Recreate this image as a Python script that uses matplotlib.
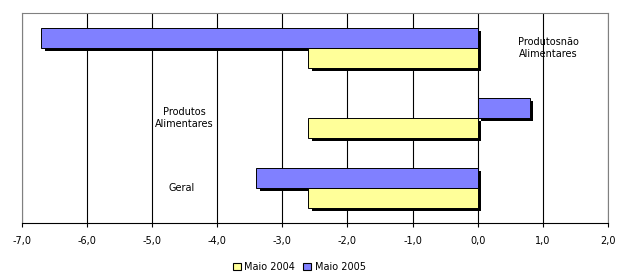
import numpy as np
import matplotlib
matplotlib.use('Agg')
import matplotlib.pyplot as plt
import matplotlib.patheffects as pe
from matplotlib.patches import Patch

plt.rcParams['font.family'] = ['DejaVu Sans']

# dados (variação %, de baixo para cima)
categorias = ['Geral', 'Produtos\nAlimentares', 'Produtosnão\nAlimentares']
maio_2004 = [-2.6, -2.6, -2.6]
maio_2005 = [-3.4, 0.8, -6.7]
ticks = np.arange(-7, 3, 1)

cor_2004 = '#FFFF99'
cor_2005 = '#8080FF'

fig = plt.figure(figsize=(6.17, 2.74), dpi=100)
ax = fig.add_axes([0.0352, 0.186, 0.9502, 0.7666])

y = np.arange(len(categorias))
h = 0.2857
sombra = [pe.SimplePatchShadow(offset=(2.4, -2.4), shadow_rgbFace='black', alpha=1.0), pe.Normal()]

b5 = ax.barh(y + h / 2, maio_2005, height=h, color=cor_2005, edgecolor='black', linewidth=0.7, zorder=3)
b4 = ax.barh(y - h / 2, maio_2004, height=h, color=cor_2004, edgecolor='black', linewidth=0.7, zorder=4)
for b in list(b5) + list(b4):
    b.set_path_effects(sombra)

ax.set_xlim(-7, 2)
ax.set_ylim(-0.5, len(categorias) - 0.5)
ax.set_xticks(ticks)
ax.set_xticklabels([f'{t:.1f}'.replace('.', ',') for t in ticks], fontsize=7)
ax.set_yticks([])
ax.grid(axis='x', color='black', linewidth=0.8, zorder=0)
ax.set_axisbelow(True)
ax.tick_params(axis='x', direction='out', length=3, width=0.8, pad=6)

for s in ['left', 'right', 'top']:
    ax.spines[s].set_color('#808080')
    ax.spines[s].set_linewidth(0.8)
ax.spines['bottom'].set_color('black')
ax.spines['bottom'].set_linewidth(0.8)

# rótulos das categorias dentro da área
pos_rotulos = [(-4.55, 0.0), (-4.5, 1.0), (1.09, 2.0)]
for (xr, yr), txt in zip(pos_rotulos, categorias):
    ax.text(xr, yr, txt, ha='center', va='center', fontsize=7, linespacing=1.3, zorder=5)

handles = [Patch(facecolor=cor_2004, edgecolor='black', linewidth=0.8),
           Patch(facecolor=cor_2005, edgecolor='black', linewidth=0.8)]
fig.legend(handles, ['Maio 2004', 'Maio 2005'], loc='center', bbox_to_anchor=(0.485, 0.025),
           ncol=2, frameon=False, fontsize=7, handlelength=0.8, handleheight=0.8,
           handletextpad=0.4, columnspacing=0.8)

fig.savefig('out.png', dpi=100)
